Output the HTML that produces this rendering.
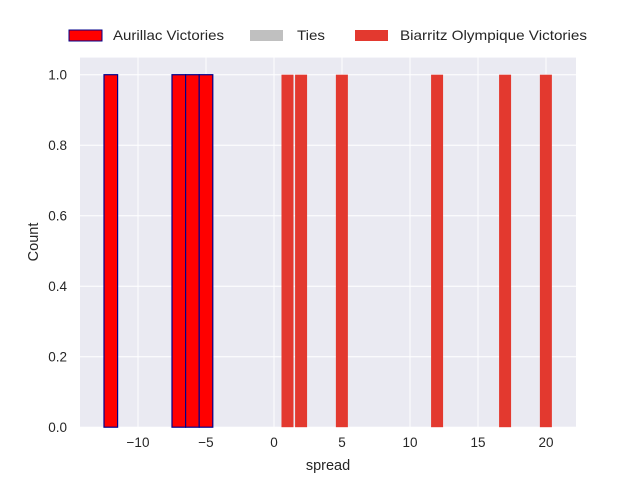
<!DOCTYPE html>
<html><head><meta charset="utf-8"><style>
body{margin:0;background:#fff;font-family:"Liberation Sans","DejaVu Sans",sans-serif}
text{font-family:"Liberation Sans","DejaVu Sans",sans-serif}
</style></head><body>
<svg id="chart" width="640" height="480">
<rect x="80" y="57.6" width="496" height="369.6" fill="#eaeaf2"/>
<g id="grid"></g><g id="bars"></g><g id="axes"></g>
<g>
<rect x="69" y="30" width="33" height="11" fill="#ff0000" stroke="#00008b"/>
<text x="113" y="40" font-size="14" textLength="111" lengthAdjust="spacingAndGlyphs" fill="#262626">Aurillac Victories</text>
<rect x="250" y="30" width="33" height="11" fill="#c0c0c0"/>
<text x="297" y="40" font-size="14" textLength="28" lengthAdjust="spacingAndGlyphs" fill="#262626">Ties</text>
<rect x="355" y="30" width="33" height="11" fill="#e3392f"/>
<text x="400" y="40" font-size="14" textLength="187" lengthAdjust="spacingAndGlyphs" fill="#262626">Biarritz Olympique Victories</text>
</g>
<text x="328" y="470" font-size="14.5" text-anchor="middle" fill="#262626">spread</text>
<text transform="translate(38,242) rotate(-90)" font-size="14.5" text-anchor="middle" fill="#262626">Count</text>
</svg>
<script>
const aurillacSpreads=[-12,-7,-6,-5];
const aurillacCounts=[1,1,1,1];
const biarritzSpreads=[1,2,5,12,17,20];
const biarritzCounts=[1,1,1,1,1,1];
const xTicks=[-10,-5,0,5,10,15,20];
const yTicks=[0,0.2,0.4,0.6,0.8,1.0];
const NS="http://www.w3.org/2000/svg";
const X=v=>274+v*13.6, Y=v=>427.2-v*352.5;
const g=id=>document.getElementById(id);
function mk(t,a,p){const e=document.createElementNS(NS,t);for(const k in a)e.setAttribute(k,a[k]);p.appendChild(e);return e;}
xTicks.forEach(t=>{
 const l=mk('line',{x1:X(t),x2:X(t),y1:57.6,y2:427.2,stroke:'#fff','stroke-width':1},g('grid'));
 
 
 const tx=mk('text',{x:X(t),y:447,'font-size':13.5,'text-anchor':'middle',fill:'#262626'},g('axes'));
 tx.textContent=(t<0?'\u2212'+(-t):t);
 
 
});
yTicks.forEach(t=>{
 const l=mk('line',{x1:80,x2:576,y1:Y(t),y2:Y(t),stroke:'#fff','stroke-width':1},g('grid'));
 
 
 const tx=mk('text',{x:67,y:Y(t)+5,'font-size':13.5,'text-anchor':'end',fill:'#262626'},g('axes'));
 tx.textContent=t.toFixed(1);
 
 
});
aurillacSpreads.forEach((s,i)=>{
 const r=mk('rect',{x:X(s-0.5),y:Y(aurillacCounts[i]),width:13.6,height:Y(0)-Y(aurillacCounts[i]),fill:'#ff0000',stroke:'#00008b','stroke-width':1.2},g('bars'));
 
 
});
biarritzSpreads.forEach((s,i)=>{
 const r=mk('rect',{x:X(s-0.45),y:Y(biarritzCounts[i]),width:12,height:Y(0)-Y(biarritzCounts[i]),fill:'#e3392f'},g('bars'));
 
 
});
</script>
</body></html>
